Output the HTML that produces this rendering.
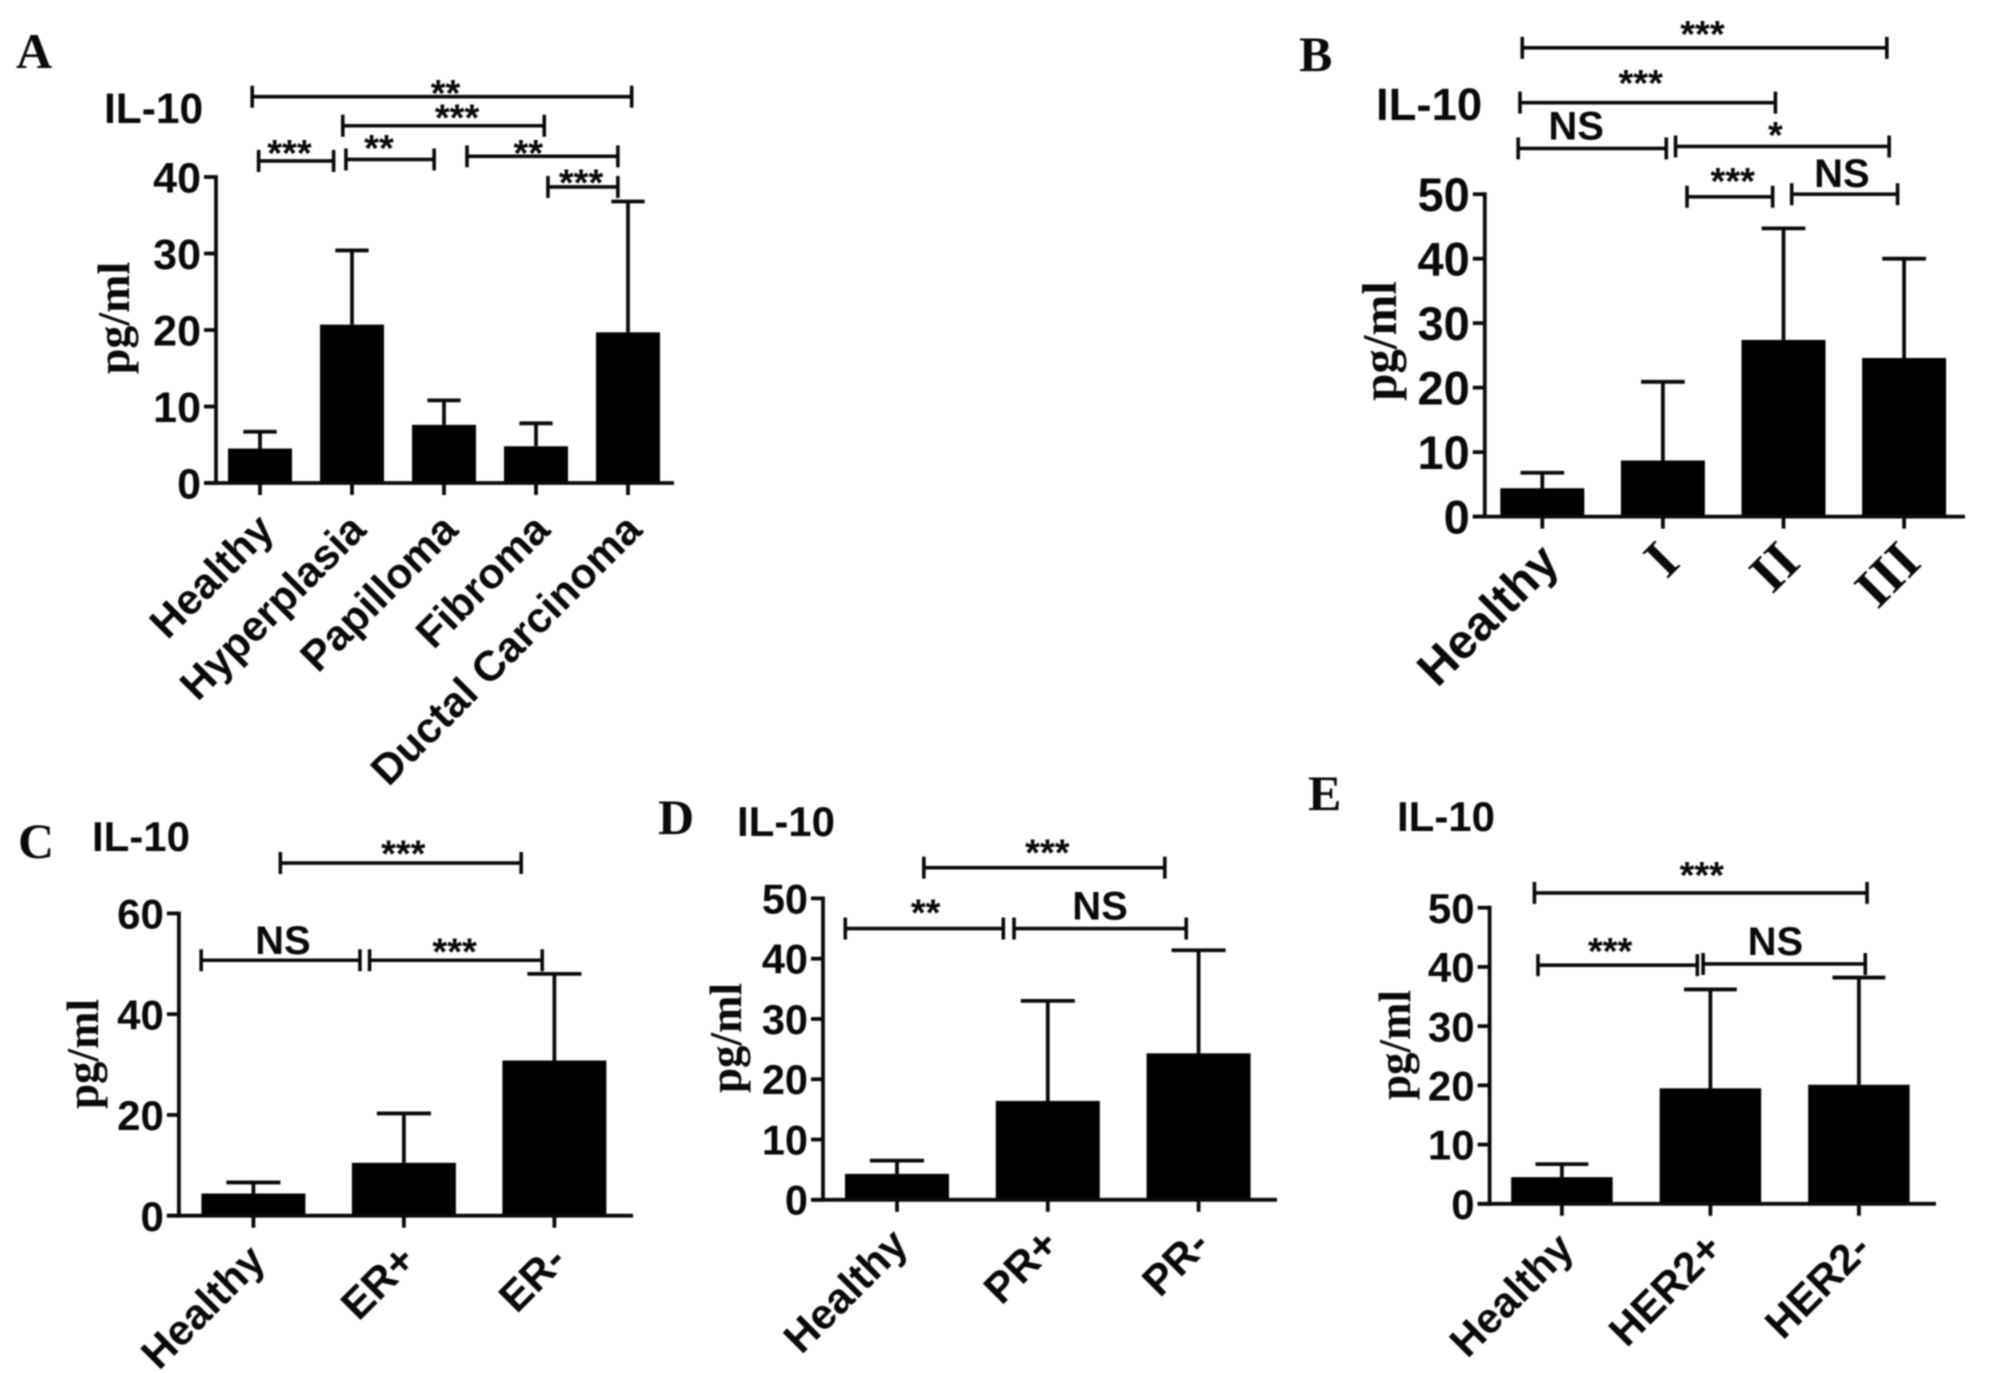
<!DOCTYPE html>
<html lang="en">
<head>
<meta charset="utf-8">
<title>IL-10 levels by patient group</title>
<style>
html,body{margin:0;padding:0;background:#fff;width:2008px;height:1373px;overflow:hidden}
svg{display:block;filter:blur(0.9px)}
text{fill:#0a0a0a}
</style>
</head>
<body>
<svg id="figure" xmlns="http://www.w3.org/2000/svg" width="2008" height="1373" viewBox="0 0 2008 1373"></svg>
<script>
// Panel A data
const aCategories = ["Healthy","Hyperplasia","Papilloma","Fibroma","Ductal Carcinoma"];
const aMeans = [4.5,20.7,7.6,4.8,19.7];
const aErrors = [2.2,9.7,3.2,3.0,17.1];
const aTicks = [0,10,20,30,40];
const aBracketFrom = [-0.085,0.90,-0.015,0.934,2.25,3.13];
const aBracketTo = [4.04,3.09,0.80,1.893,3.89,3.89];
const aBracketLevel = [50.5,46.7,42.1,42.3,42.7,38.7];
const aBracketText = ["**","***","***","**","**","***"];
const aBracketTextAt = [2.017,2.142,0.32,1.293,2.916,3.49];
const aBracketTextLevel = [51.5,48.3,43.7,44.3,43.7,39.8];

// Panel B data
const bCategories = ["Healthy","I","II","III"];
const bMeans = [4.4,8.7,27.4,24.6];
const bErrors = [2.4,12.2,17.3,15.4];
const bTicks = [0,10,20,30,40,50];
const bBracketFrom = [-0.166,-0.185,-0.2,1.105,1.2,2.068];
const bBracketTo = [2.857,1.933,1.028,2.876,1.91,2.946];
const bBracketLevel = [72.7,64.2,57.1,57.4,49.6,50];
const bBracketText = ["***","***","NS","*","***","NS"];
const bBracketTextAt = [1.328,0.816,0.281,1.933,1.579,2.484];
const bBracketTextLevel = [75.5,67.9,60.5,59.8,52.7,53.2];

// Panel C data
const cCategories = ["Healthy","ER+","ER-"];
const cMeans = [4.4,10.5,30.8];
const cErrors = [2.2,9.8,17.2];
const cTicks = [0,20,40,60];
const cBracketFrom = [0.179,-0.347,0.772];
const cBracketTo = [1.779,0.708,1.919];
const cBracketLevel = [70,50.7,50.7];
const cBracketText = ["***","NS","***"];
const cBracketTextAt = [0.996,0.196,1.337];
const cBracketTextLevel = [72.7,54.6,53.3];

// Panel D data
const dCategories = ["Healthy","PR+","PR-"];
const dMeans = [4.3,16.4,24.3];
const dErrors = [2.2,16.6,17.1];
const dTicks = [0,10,20,30,40,50];
const dBracketFrom = [0.178,-0.343,0.776];
const dBracketTo = [1.776,0.705,1.918];
const dBracketLevel = [55.1,45,45];
const dBracketText = ["***","**","NS"];
const dBracketTextAt = [0.997,0.19,1.346];
const dBracketTextLevel = [58.3,48.3,48.7];

// Panel E data
const eCategories = ["Healthy","HER2+","HER2-"];
const eMeans = [4.5,19.5,20.1];
const eErrors = [2.2,16.7,18.1];
const eTicks = [0,10,20,30,40,50];
const eBracketFrom = [-0.185,-0.161,0.951];
const eBracketTo = [2.055,0.912,2.043];
const eBracketLevel = [52.5,40.3,40.5];
const eBracketText = ["***","***","NS"];
const eBracketTextAt = [0.942,0.325,1.438];
const eBracketTextLevel = [56.2,43.4,44.2];

const SANS = '"Liberation Sans", sans-serif';
const SERIF = '"Liberation Serif", serif';
const NS = "http://www.w3.org/2000/svg";
const figure = document.getElementById("figure");

function make(parent, tag, attrs, content) {
  const node = document.createElementNS(NS, tag);
  for (const key in attrs) node.setAttribute(key, attrs[key]);
  if (content !== undefined) node.textContent = content;
  parent.appendChild(node);
  return node;
}

function strokeLine(parent, x1, y1, x2, y2, width) {
  return make(parent, "line", {x1: x1, y1: y1, x2: x2, y2: y2, stroke: "#0a0a0a", "stroke-width": width});
}

function drawPanel(p) {
  const xScale = i => p.firstCenter + p.spacing * i;
  const yScale = v => p.zeroY - (v / p.maxValue) * (p.zeroY - p.topY);

  const g = make(figure, "g", {});
  
  

  // Letter, title, axis title
  let el = make(g, "text", {x: p.letterX, y: p.letterY, "font-family": SERIF, "font-weight": "700", "font-size": 50}, p.id.toUpperCase());
  
  

  el = make(g, "text", {x: p.titleX, y: p.titleY, "font-family": SANS, "font-weight": "700", "font-size": p.titleSize}, "IL-10");
  
  

  el = make(g, "text", {"text-anchor": "middle", transform: "translate(" + p.yTitleX + " " + p.yTitleY + ") rotate(-90)", "font-family": SERIF, "font-weight": "700", "font-size": p.yTitleSize}, "pg/ml");
  
  

  // Bars and error bars
  p.means.forEach((mean, i) => {
    const cx = xScale(i);
    const top = yScale(mean);
    const errTop = yScale(mean + p.errors[i]);
    const bar = make(g, "rect", {x: cx - p.barWidth / 2, y: top, width: p.barWidth, height: p.zeroY - top, fill: "#000"});
    
    
    const stem = strokeLine(g, cx, top, cx, errTop, 3.8);
    
    
    const cap = strokeLine(g, cx - p.barWidth * 0.26, errTop, cx + p.barWidth * 0.26, errTop, 3.8);
    
    
  });

  // Axes
  el = strokeLine(g, p.axisX, p.topY - 1.9, p.axisX, p.zeroY + 1.9, 3.8);
  
  
  el = strokeLine(g, p.axisX - 12, p.zeroY, p.axisEnd, p.zeroY, 3.8);
  
  

  // Y ticks
  p.ticks.forEach(t => {
    const y = yScale(t);
    const mark = strokeLine(g, p.axisX - 12, y, p.axisX, y, 3.8);
    
    
    const label = make(g, "text", {x: p.axisX - 15, y: y + p.tickSize * 0.36, "text-anchor": "end", "font-family": SANS, "font-weight": "700", "font-size": p.tickSize}, String(t));
    
    
  });

  // X ticks and labels
  p.categories.forEach((name, i) => {
    const cx = xScale(i);
    const mark = strokeLine(g, cx, p.zeroY, cx, p.zeroY + 12, 3.8);
    
    
    const roman = /^I+$/.test(name);
    const label = make(g, "text", {
      "text-anchor": "end",
      transform: "translate(" + (cx + p.labelDx) + " " + (p.zeroY + p.labelDy) + ") rotate(-45)",
      "font-family": roman ? SERIF : SANS,
      "font-weight": "700",
      "font-size": roman ? p.labelSize * 1.14 : p.labelSize
    }, name);
    
    
  });

  // Significance brackets
  p.bracketText.forEach((text, i) => {
    const y = yScale(p.bracketLevel[i]);
    const x1 = xScale(p.bracketFrom[i]);
    const x2 = xScale(p.bracketTo[i]);
    const line = strokeLine(g, x1, y, x2, y, 3.6);
    
    
    const capL = strokeLine(g, x1, y - 11, x1, y + 11, 3.6);
    
    
    const capR = strokeLine(g, x2, y - 11, x2, y + 11, 3.6);
    
    
    const isNS = text === "NS";
    const size = isNS ? 40 : 38;
    const cy = yScale(p.bracketTextLevel[i]);
    const label = make(g, "text", {
      x: xScale(p.bracketTextAt[i]),
      y: cy + size * (isNS ? 0.33 : 0.45),
      "text-anchor": "middle",
      "font-family": SANS,
      "font-weight": "700",
      "font-size": size
    }, text);
    
    
  });
}

drawPanel({
  id: "a", categories: aCategories, means: aMeans, errors: aErrors, ticks: aTicks,
  bracketFrom: aBracketFrom, bracketTo: aBracketTo, bracketLevel: aBracketLevel,
  bracketText: aBracketText, bracketTextAt: aBracketTextAt, bracketTextLevel: aBracketTextLevel,
  maxValue: 40, zeroY: 483, topY: 177, axisX: 216, axisEnd: 674,
  firstCenter: 260, spacing: 92, barWidth: 64,
  tickSize: 43, labelSize: 42.5, labelDx: 16, labelDy: 49,
  letterX: 16, letterY: 68, titleX: 104, titleY: 123, titleSize: 42.5,
  yTitleX: 129, yTitleY: 318, yTitleSize: 46
});
drawPanel({
  id: "b", categories: bCategories, means: bMeans, errors: bErrors, ticks: bTicks,
  bracketFrom: bBracketFrom, bracketTo: bBracketTo, bracketLevel: bBracketLevel,
  bracketText: bBracketText, bracketTextAt: bBracketTextAt, bracketTextLevel: bBracketTextLevel,
  maxValue: 50, zeroY: 516.6, topY: 194.2, axisX: 1484.8, axisEnd: 1965,
  firstCenter: 1542.3, spacing: 120.6, barWidth: 84,
  tickSize: 47, labelSize: 48.5, labelDx: 19, labelDy: 48,
  letterX: 1299, letterY: 71, titleX: 1376, titleY: 120, titleSize: 45.5,
  yTitleX: 1396, yTitleY: 341, yTitleSize: 49
});
drawPanel({
  id: "c", categories: cCategories, means: cMeans, errors: cErrors, ticks: cTicks,
  bracketFrom: cBracketFrom, bracketTo: cBracketTo, bracketLevel: cBracketLevel,
  bracketText: cBracketText, bracketTextAt: cBracketTextAt, bracketTextLevel: cBracketTextLevel,
  maxValue: 60, zeroY: 1215.7, topY: 913.4, axisX: 178.9, axisEnd: 633,
  firstCenter: 253.4, spacing: 150.5, barWidth: 104,
  tickSize: 42, labelSize: 42.5, labelDx: 14, labelDy: 47,
  letterX: 18, letterY: 858, titleX: 92, titleY: 851, titleSize: 42,
  yTitleX: 98, yTitleY: 1054, yTitleSize: 45
});
drawPanel({
  id: "d", categories: dCategories, means: dMeans, errors: dErrors, ticks: dTicks,
  bracketFrom: dBracketFrom, bracketTo: dBracketTo, bracketLevel: dBracketLevel,
  bracketText: dBracketText, bracketTextAt: dBracketTextAt, bracketTextLevel: dBracketTextLevel,
  maxValue: 50, zeroY: 1199.8, topY: 898.4, axisX: 823, axisEnd: 1277,
  firstCenter: 897, spacing: 150.8, barWidth: 104,
  tickSize: 41.5, labelSize: 42.5, labelDx: 13, labelDy: 47,
  letterX: 658, letterY: 834, titleX: 737, titleY: 836, titleSize: 42,
  yTitleX: 741, yTitleY: 1038, yTitleSize: 45
});
drawPanel({
  id: "e", categories: eCategories, means: eMeans, errors: eErrors, ticks: eTicks,
  bracketFrom: eBracketFrom, bracketTo: eBracketTo, bracketLevel: eBracketLevel,
  bracketText: eBracketText, bracketTextAt: eBracketTextAt, bracketTextLevel: eBracketTextLevel,
  maxValue: 50, zeroY: 1203.8, topY: 907.7, axisX: 1489.6, axisEnd: 1936,
  firstCenter: 1561.9, spacing: 148.5, barWidth: 101.5,
  tickSize: 42, labelSize: 42.5, labelDx: 14, labelDy: 47,
  letterX: 1308, letterY: 810, titleX: 1397, titleY: 831, titleSize: 42,
  yTitleX: 1410, yTitleY: 1045, yTitleSize: 45
});
</script>
</body>
</html>
